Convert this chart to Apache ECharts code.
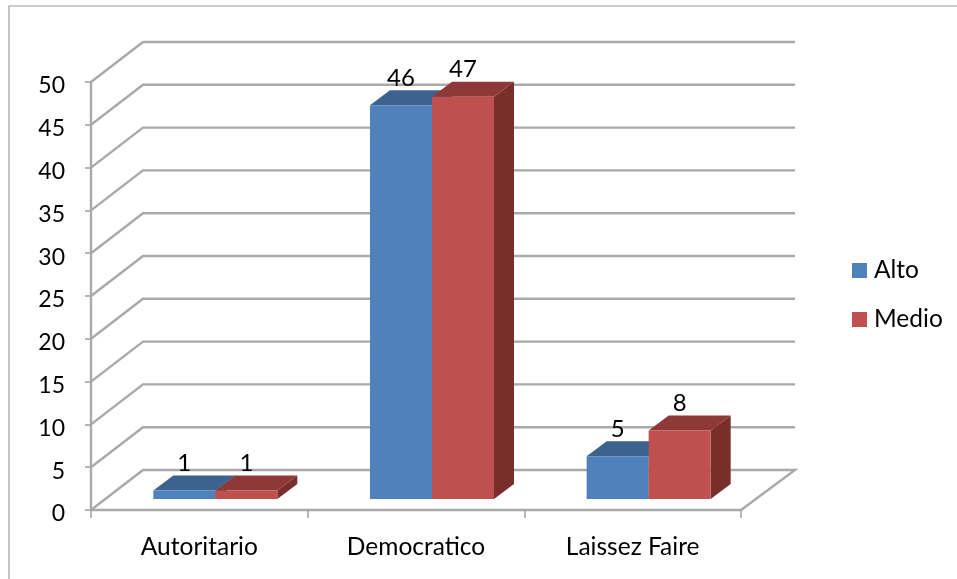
<!DOCTYPE html>
<html><head><meta charset="utf-8">
<style>html,body{margin:0;padding:0;background:#fff}#c{width:957px;height:579px}</style>
<script src="https://cdn.jsdelivr.net/npm/echarts@6/dist/echarts.min.js"></script>
</head><body><div id="c"></div>
<script>
const categories = ['Autoritario','Democratico','Laissez Faire'];
const alto = [1,46,5];
const medio = [1,47,8];
const wallLevels = [0,5,10,15,20,25,30,35,40,45,50];

const FONT = 'Lato';
const WALL = {dx:52, dxRight:54, dy:40, color:'#a9a9a9', width:2.4};
const BAR = {ratio:0.2862, shiftX:16, shiftY:11, depthX:20, depthY:15};

function wallItem(params, api){
  const v = api.value(0);
  const p = api.coord([0, v]);
  const band = api.size([1,0])[0];
  const x0 = p[0]-band/2, x1 = x0+band*3, y = p[1];
  const pts = [[x0,y],[x0+WALL.dx,y-WALL.dy],[x1+WALL.dxRight,y-WALL.dy]];
  if(v===0) pts.push([x1,y]);
  return {type:'polyline', shape:{points:pts}, style:{fill:null, stroke:WALL.color, lineWidth:WALL.width}, silent:true};
}
function barRender(colors, side){
  return function(params, api){
    const i = api.value(0), v = api.value(1);
    const base = api.coord([i,0]), top = api.coord([i,v]);
    const w = api.size([1,0])[0]*BAR.ratio;
    const xc = base[0]+BAR.shiftX;
    const xl = side<0 ? xc-w : xc, xr = xl+w;
    const yb = base[1]-BAR.shiftY, yt = top[1]-BAR.shiftY;
    const dx = BAR.depthX, dy = BAR.depthY;
    return {type:'group', children:[
      {type:'polygon', shape:{points:[[xr,yb],[xr+dx,yb-dy],[xr+dx,yt-dy],[xr,yt]]}, style:{fill:colors.side}},
      {type:'polygon', shape:{points:[[xl,yt],[xr,yt],[xr+dx,yt-dy],[xl+dx,yt-dy]]}, style:{fill:colors.top}},
      {type:'rect', shape:{x:xl,y:yt,width:w,height:yb-yt}, style:{fill:colors.front}},
      {type:'text', z2:50, style:{text:String(v), x:(xl+xr)/2, y:yt-27, align:'center', verticalAlign:'middle', font:'24px '+FONT, fill:'#000'}}
    ]};
  };
}
const blue = {front:'#4f81bd', top:'#3c628f', side:'#2f4d72'};
const red  = {front:'#c0504d', top:'#8e3937', side:'#7a2e2c'};

const chart = echarts.init(document.getElementById('c'));
chart.setOption({
  animation:false,
  backgroundColor:'#fff',
  grid:{left:91, top:82, width:650, height:428, containLabel:false},
  legend:{
    data:['Alto','Medio'], orient:'vertical', left:847, top:253,
    itemWidth:15, itemHeight:15, itemGap:24, icon:'rect', selectedMode:false,
    textStyle:{fontFamily:FONT, fontSize:24.5, color:'#000', padding:[0,0,0,2]}
  },
  xAxis:{type:'category', data:categories,
    axisLine:{lineStyle:{color:'#a9a9a9', width:2.4}},
    axisTick:{show:true, length:8, lineStyle:{color:'#a0a0a0', width:1.5}},
    axisLabel:{color:'#000', fontFamily:FONT, fontSize:24.5, margin:25},
    splitLine:{show:false}},
  yAxis:{type:'value', min:0, max:50, interval:5,
    axisLine:{show:true, lineStyle:{color:'#a9a9a9', width:2.4}},
    axisTick:{show:true, length:6, lineStyle:{color:'#a0a0a0', width:1.5}},
    axisLabel:{color:'#000', fontFamily:FONT, fontSize:23, margin:26, verticalAlign:'top', lineHeight:8},
    splitLine:{show:false}},
  graphic:[{type:'rect', silent:true, z:-1, shape:{x:9,y:6,width:960,height:590}, style:{fill:'#fff', stroke:'#9c9c9c', lineWidth:1.2}}],
  series:[
    {type:'custom', name:'walls', z:1, data:wallLevels.map(v=>[v]), encode:{y:0}, renderItem:wallItem, silent:true},
    {type:'custom', name:'Alto', z:3, itemStyle:{color:blue.front}, data:alto.map((v,i)=>[i,v]), encode:{x:0,y:1}, renderItem:barRender(blue,-1)},
    {type:'custom', name:'Medio', z:4, itemStyle:{color:red.front}, data:medio.map((v,i)=>[i,v]), encode:{x:0,y:1}, renderItem:barRender(red,1)}
  ]
});
</script></body></html>
